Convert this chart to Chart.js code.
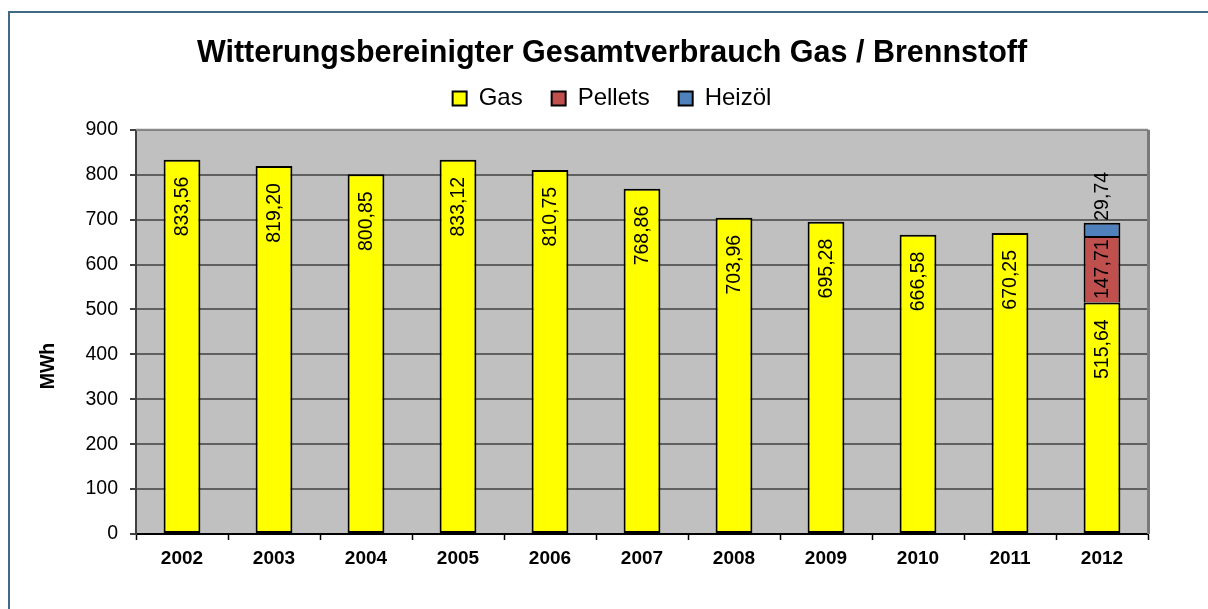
<!DOCTYPE html>
<html>
<head>
<meta charset="utf-8">
<script src="https://cdn.jsdelivr.net/npm/chart.js@4.4.1/dist/chart.umd.min.js"></script>
<style>
	body { margin: 0; background: #ffffff; }
	#wrap { position: absolute; left: 0; top: 0; width: 1208px; height: 609px; }
</style>
</head>
<body>
<div id="wrap"><canvas id="myChart" width="1208" height="609"></canvas></div>
<script>
var years = ['2002', '2003', '2004', '2005', '2006', '2007', '2008', '2009', '2010', '2011', '2012'];
var gas = [833.56, 819.20, 800.85, 833.12, 810.75, 768.86, 703.96, 695.28, 666.58, 670.25, 515.64];
var pellets = [null, null, null, null, null, null, null, null, null, null, 147.71];
var heizoel = [null, null, null, null, null, null, null, null, null, null, 29.74];
var yTicks = [0, 100, 200, 300, 400, 500, 600, 700, 800, 900];

var fontName = '"Liberation Sans", Arial, sans-serif';

// Rahmen + grauer Plotbereich
var backgroundPlugin = {
	id: 'background',
	beforeDraw: function(chart) {
		var ctx = chart.ctx;
		var a = chart.chartArea;
		ctx.save();
		ctx.strokeStyle = '#3f6b85';
		ctx.lineWidth = 2;
		ctx.strokeRect(9, 12, 1300, 700);
		ctx.fillStyle = '#c0c0c0';
		ctx.fillRect(a.left, a.top, a.right - a.left, a.bottom - a.top);
		ctx.restore();
	},
	afterDraw: function(chart) {
		var ctx = chart.ctx;
		var a = chart.chartArea;
		ctx.save();
		ctx.strokeStyle = '#8c8c8c';
		ctx.lineWidth = 2;
		ctx.beginPath();
		ctx.moveTo(a.left, a.top);
		ctx.lineTo(a.right, a.top);
		ctx.stroke();
		ctx.lineWidth = 3;
		ctx.strokeStyle = '#7a7a7a';
		ctx.beginPath();
		ctx.moveTo(a.right + 0.5, a.top);
		ctx.lineTo(a.right + 0.5, a.bottom);
		ctx.stroke();
		// Achsentitel
		ctx.translate(49, 366);
		ctx.rotate(-Math.PI / 2);
		ctx.fillStyle = '#000000';
		ctx.font = 'bold 19.5px ' + fontName;
		ctx.textAlign = 'center';
		ctx.textBaseline = 'middle';
		ctx.fillText('MWh', 0, 0);
		ctx.restore();
	}
};

// Werte senkrecht in die Balken schreiben
var labelPlugin = {
	id: 'barLabels',
	afterDatasetsDraw: function(chart) {
		var ctx = chart.ctx;
		ctx.save();
		ctx.font = '19.5px ' + fontName;
		ctx.fillStyle = '#000000';
		ctx.textBaseline = 'middle';
		chart.data.datasets.forEach(function(ds, i) {
			var meta = chart.getDatasetMeta(i);
			meta.data.forEach(function(bar, j) {
				var v = ds.data[j];
				if (v === null || v === undefined) return;
				var text = v.toFixed(2).replace('.', ',');
				var tw = ctx.measureText(text).width;
				var h = bar.base - bar.y;
				ctx.save();
				if (h > tw + 4) {
					var gap = Math.min(17, (h - tw) / 2);
					ctx.translate(bar.x + 1, bar.y + gap);
					ctx.rotate(-Math.PI / 2);
					ctx.textAlign = 'right';
				} else {
					ctx.translate(bar.x + 1, bar.y - 2);
					ctx.rotate(-Math.PI / 2);
					ctx.textAlign = 'left';
				}
				ctx.fillText(text, 0, 0);
				ctx.restore();
			});
		});
		ctx.restore();
	}
};

var ctx = document.getElementById('myChart').getContext('2d');
var myChart = new Chart(ctx, {
	type: 'bar',
	data: {
		labels: years,
		datasets: [
			{
				label: 'Gas',
				data: gas,
				backgroundColor: '#ffff00',
				borderColor: '#000000',
				borderWidth: 2,
				borderSkipped: false,
				barPercentage: 0.4,
				categoryPercentage: 1.0
			},
			{
				label: 'Pellets',
				data: pellets,
				backgroundColor: '#c0504d',
				borderColor: '#000000',
				borderWidth: { top: 2, left: 2, right: 2, bottom: 0 },
				borderSkipped: false,
				barPercentage: 0.4,
				categoryPercentage: 1.0
			},
			{
				label: 'Heizöl',
				data: heizoel,
				backgroundColor: '#4f81bd',
				borderColor: '#000000',
				borderWidth: { top: 2, left: 2, right: 2, bottom: 0 },
				borderSkipped: false,
				barPercentage: 0.4,
				categoryPercentage: 1.0
			}
		]
	},
	options: {
		responsive: false,
		animation: false,
		layout: {
			padding: { left: 76, right: 60, top: 0, bottom: 0 }
		},
		plugins: {
			title: {
				display: true,
				text: 'Witterungsbereinigter Gesamtverbrauch Gas / Brennstoff',
				color: '#000000',
				font: { family: fontName, size: 30.5, weight: 'bold' },
				padding: { top: 35, bottom: -14 }
			},
			// leerer Abstand zwischen Legende und Diagramm
			subtitle: {
				display: true,
				text: '',
				weight: 500,
				font: { size: 1 },
				padding: { top: 8, bottom: 0 }
			},
			legend: {
				display: true,
				labels: {
					color: '#000000',
					font: { family: fontName, size: 24 },
					boxWidth: 14,
					boxHeight: 14,
					padding: 29,
					generateLabels: function(chart) {
						return chart.data.datasets.map(function(ds, i) {
							return {
								text: ds.label,
								fillStyle: ds.backgroundColor,
								strokeStyle: '#000000',
								lineWidth: 2,
								fontColor: '#000000',
								datasetIndex: i
							};
						});
					}
				}
			},
			tooltip: { enabled: false }
		},
		scales: {
			x: {
				stacked: true,
				offset: true,
				grid: {
					offset: true,
					drawOnChartArea: false,
					drawTicks: true,
					tickLength: 6,
					tickColor: '#000000',
					tickWidth: 1.5
				},
				border: { display: true, color: '#000000', width: 2 },
				ticks: {
					color: '#000000',
					padding: 7,
					font: { family: fontName, size: 19, weight: 'bold' }
				},
				afterFit: function(scale) { scale.height = 75; }
			},
			y: {
				stacked: true,
				min: 0,
				max: 900,
				afterBuildTicks: function(scale) {
					scale.ticks = yTicks.map(function(v) { return { value: v }; });
				},
				grid: {
					color: '#606060',
					lineWidth: 2,
					drawTicks: true,
					tickLength: 6,
					tickColor: '#000000',
					tickWidth: 1.5
				},
				border: { display: true, color: '#404040', width: 2 },
				ticks: {
					color: '#000000',
					padding: 12,
					font: { family: fontName, size: 19.5 }
				},
				afterFit: function(scale) { scale.width = 60; }
			}
		}
	},
	plugins: [backgroundPlugin, labelPlugin]
});
</script>
</body>
</html>
